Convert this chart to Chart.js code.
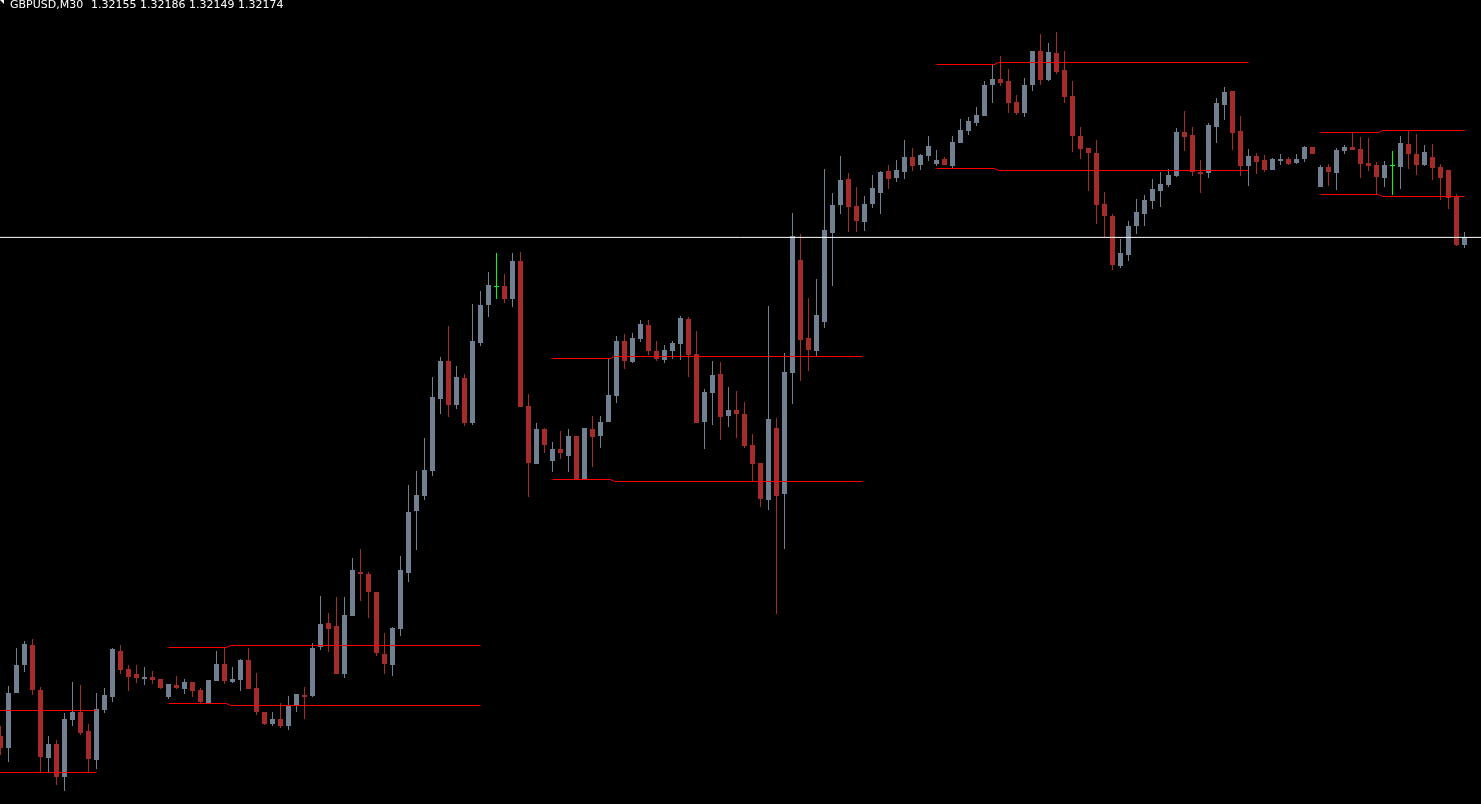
<!DOCTYPE html>
<html>
<head>
<meta charset="utf-8">
<script src="https://cdn.jsdelivr.net/npm/chart.js@4/dist/chart.umd.min.js"></script>
<style>
  html, body { margin: 0; padding: 0; background: #000; overflow: hidden; }
  #wrap { position: relative; width: 1481px; height: 804px; background: #000; }
  #c { position: absolute; left: 0; top: 0; }
  .t { position: absolute; top: -1px; color: #fff; font-family: "DejaVu Sans", sans-serif; font-size: 11px; line-height: 11px; white-space: pre; }
  #tri { position: absolute; left: 0; top: 0; width: 0; height: 0; border-top: 4px solid #fff; border-left: 4px solid transparent; }
</style>
</head>
<body>
<div id="wrap">
  <canvas id="c" width="1481" height="804"></canvas>
  <div id="tri"></div>
  <div class="t" id="sym" style="left:10px"></div>
  <div class="t" id="ohlc" style="left:91px"></div>
</div>
<script>
// ---- chart header ----
const symbol = "GBPUSD,M30";
const lastQuote = ["1.32155", "1.32186", "1.32149", "1.32174"];
const bid = 1.32174;

// ---- OHLC series (M30 bars, left to right) ----
const open = [
1.309275,1.308975,1.310350,1.311050,1.311550,1.310425,1.308725,1.309075,1.308250,1.309675,
1.309875,1.309400,1.308675,1.309925,1.310250,1.311400,1.310950,1.310825,1.310700,1.310750,
1.310700,1.310250,1.310550,1.310450,1.310625,1.310425,1.310100,1.310650,1.311075,1.310625,
1.310675,1.311175,1.310475,1.309875,1.309575,1.309700,1.309525,1.310050,1.310300,1.310275,
1.311500,1.312100,1.312025,1.310825,1.312275,1.313375,1.313325,1.312875,1.311325,1.311050,
1.311950,1.313350,1.314900,1.315275,1.315900,1.317700,1.318650,1.317550,1.318225,1.317100,
1.319100,1.320050,1.320500,1.320525,1.320200,1.321150,1.317525,1.316075,1.316950,1.316150,
1.316450,1.316275,1.316775,1.315700,1.316950,1.316775,1.317125,1.317775,1.319150,1.318625,
1.319200,1.319550,1.318900,1.318675,1.318900,1.319075,1.319700,1.318825,1.317125,1.317850,
1.318325,1.317275,1.317425,1.317325,1.316550,1.316100,1.315175,1.316975,1.315325,1.318350,
1.321175,1.319225,1.318900,1.319625,1.321850,1.322550,1.323200,1.322525,1.322125,1.322575,
1.322850,1.323400,1.323225,1.323375,1.323750,1.323550,1.323775,1.323575,1.323700,1.323525,
1.324100,1.324400,1.324600,1.324775,1.325550,1.325700,1.325650,1.325125,1.324850,1.325550,
1.326400,1.325675,1.326350,1.325925,1.325275,1.324275,1.323975,1.323850,1.322575,1.322275,
1.321025,1.321300,1.322025,1.322325,1.322650,1.322900,1.323050,1.323275,1.324375,1.324300,
1.323375,1.323350,1.324500,1.325050,1.325400,1.324400,1.323525,1.323775,1.323675,1.323425,
1.323650,1.323700,1.323600,1.323700,1.324000,1.323000,1.323500,1.323350,1.323900,1.324000,
1.323950,1.323600,1.323550,1.323225,1.323525,1.323500,1.324075,1.323825,1.323550,1.323750,
1.323500,1.323425,1.322750,1.321550];
const high = [
1.309525,1.310525,1.311475,1.311650,1.311700,1.310500,1.309275,1.309175,1.309850,1.310625,
1.310550,1.309575,1.310350,1.310475,1.311475,1.311550,1.311050,1.311050,1.311000,1.310900,
1.310700,1.310575,1.310775,1.310700,1.310625,1.310475,1.310675,1.311400,1.311475,1.311000,
1.311200,1.311475,1.310850,1.309875,1.309875,1.310100,1.310275,1.310325,1.310500,1.311600,
1.312775,1.312350,1.312750,1.312750,1.313725,1.313950,1.313375,1.312875,1.311850,1.312000,
1.313775,1.315550,1.315900,1.316725,1.318250,1.318750,1.319525,1.318525,1.318325,1.320075,
1.320400,1.320875,1.321350,1.320825,1.321350,1.321375,1.317825,1.317100,1.316975,1.316625,
1.316900,1.316950,1.316775,1.316975,1.317275,1.317275,1.318700,1.319275,1.319325,1.319350,
1.319675,1.319675,1.319150,1.319050,1.319150,1.319775,1.319750,1.319400,1.317950,1.318650,
1.318625,1.318000,1.317900,1.317625,1.316825,1.316100,1.320025,1.317225,1.318850,1.322350,
1.321825,1.320225,1.320700,1.323450,1.322850,1.323775,1.323350,1.323000,1.322775,1.323300,
1.323400,1.323550,1.323675,1.324175,1.323975,1.323825,1.324275,1.323925,1.323750,1.324275,
1.324700,1.324750,1.325000,1.325650,1.326050,1.326275,1.325950,1.325300,1.325725,1.326400,
1.326825,1.326600,1.326875,1.326400,1.325650,1.324500,1.323975,1.324175,1.322875,1.322325,
1.321700,1.322150,1.322700,1.322800,1.323200,1.323375,1.323450,1.324475,1.324900,1.324500,
1.323675,1.324600,1.325225,1.325500,1.325400,1.324775,1.323950,1.323850,1.323800,1.323725,
1.323825,1.323750,1.323825,1.324025,1.324000,1.323550,1.323575,1.323975,1.324050,1.324350,
1.324250,1.324225,1.323625,1.323650,1.323900,1.324275,1.324400,1.324325,1.324050,1.324075,
1.323575,1.323425,1.322825,1.321875];
const low = [
1.308800,1.308625,1.310350,1.310875,1.310300,1.308375,1.308375,1.308050,1.307900,1.309525,
1.309300,1.308350,1.308450,1.309850,1.310125,1.310825,1.310400,1.310600,1.310550,1.310575,
1.310450,1.310200,1.310450,1.310325,1.310250,1.310100,1.310100,1.310650,1.310575,1.310600,
1.310400,1.310450,1.309800,1.309550,1.309525,1.309475,1.309425,1.309875,1.309700,1.310250,
1.311425,1.311375,1.310825,1.310725,1.312275,1.312650,1.312225,1.311275,1.310825,1.310775,
1.311775,1.313125,1.313925,1.315175,1.315775,1.317325,1.317250,1.317450,1.317025,1.317050,
1.319025,1.319750,1.320200,1.320100,1.320000,1.317500,1.315250,1.316075,1.316350,1.315875,
1.316200,1.315875,1.315700,1.315700,1.316000,1.316475,1.317125,1.317600,1.318450,1.318600,
1.319125,1.318800,1.318650,1.318600,1.318700,1.318675,1.318250,1.317100,1.316450,1.317050,
1.316675,1.317000,1.316725,1.316475,1.315625,1.315000,1.314925,1.312325,1.313950,1.317575,
1.318150,1.318400,1.318775,1.319475,1.320525,1.322325,1.321875,1.321875,1.321900,1.322475,
1.322325,1.322950,1.323125,1.323200,1.323400,1.323425,1.323650,1.323525,1.323550,1.323475,
1.324100,1.324300,1.324525,1.324775,1.325100,1.325525,1.324850,1.324800,1.324750,1.325400,
1.325550,1.325650,1.325825,1.325100,1.323875,1.323700,1.322900,1.322075,1.321750,1.320925,
1.320975,1.321150,1.321825,1.322025,1.322450,1.322500,1.323000,1.323250,1.323900,1.323275,
1.322850,1.323225,1.324100,1.324675,1.323925,1.323275,1.323025,1.323325,1.323375,1.323425,
1.323550,1.323550,1.323575,1.323625,1.323825,1.323000,1.323025,1.322925,1.323825,1.323925,
1.323225,1.323400,1.322825,1.323000,1.322800,1.322950,1.323450,1.323300,1.323525,1.323175,
1.322675,1.322450,1.321525,1.321475];
const close = [
1.308975,1.310350,1.311050,1.311575,1.310425,1.308750,1.309075,1.308250,1.309700,1.309875,
1.309350,1.308700,1.309950,1.310300,1.311450,1.310925,1.310750,1.310725,1.310750,1.310675,
1.310475,1.310575,1.310475,1.310625,1.310400,1.310125,1.310675,1.311075,1.310650,1.310700,
1.311175,1.310450,1.309875,1.309575,1.309700,1.309525,1.310025,1.310325,1.310250,1.311475,
1.312075,1.311950,1.310825,1.312300,1.313425,1.313325,1.312875,1.311350,1.311075,1.311975,
1.313425,1.314875,1.315300,1.315925,1.317750,1.318650,1.317550,1.318250,1.317100,1.319150,
1.320050,1.320550,1.320500,1.320200,1.321150,1.317500,1.316100,1.316950,1.316550,1.316450,
1.316350,1.316775,1.315700,1.316975,1.316750,1.317125,1.317800,1.319150,1.318650,1.319225,
1.319575,1.318900,1.318700,1.318925,1.319100,1.319725,1.318800,1.317100,1.317875,1.318300,
1.317250,1.317425,1.317325,1.316525,1.316075,1.315200,1.317200,1.315275,1.318375,1.321775,
1.319175,1.318925,1.319800,1.321925,1.322550,1.323175,1.322500,1.322150,1.322575,1.322975,
1.323375,1.323200,1.323425,1.323750,1.323525,1.323800,1.324025,1.323675,1.323550,1.324125,
1.324425,1.324650,1.324800,1.325550,1.325700,1.325600,1.325100,1.324850,1.325550,1.326400,
1.325675,1.326375,1.325875,1.325250,1.324275,1.323950,1.323850,1.322550,1.322275,1.321050,
1.321350,1.322025,1.322375,1.322675,1.322950,1.323075,1.323300,1.324375,1.324250,1.323375,
1.323325,1.324550,1.325100,1.325375,1.324350,1.323525,1.323775,1.323625,1.323425,1.323700,
1.323700,1.323575,1.323700,1.324000,1.323825,1.323500,1.323375,1.323925,1.324000,1.323925,
1.323575,1.323525,1.323250,1.323550,1.323525,1.324100,1.323825,1.323550,1.323875,1.323475,
1.323225,1.322725,1.321550,1.321750];

// ---- range levels (red horizontal lines), bar indexes where they start/step/end ----
const boxStart  = [-27, 21, 69, 117, 165];
const boxEnd    = [12, 60, 107.75, 156, 183];
const highBefore = [1.3099125, 1.3114875, 1.3187125, 1.3260625, 1.3243625];
const highAfter  = [1.3099125, 1.3115375, 1.3187625, 1.3261125, 1.3244125];
const lowBefore  = [1.3083625, 1.3100875, 1.3156875, 1.3234625, 1.3228125];
const lowAfter   = [1.3083625, 1.3100375, 1.3156375, 1.3234125, 1.3227625];

// ---- colours ----
const UP = '#708090', DOWN = '#a52a2a', DOJI = '#00ff00', LEVEL = '#ff0000', BIDC = '#ffffff';

document.getElementById('sym').textContent = symbol;
document.getElementById('ohlc').textContent = lastQuote.join(' ');

const n = open.length;
const idx = Array.from({length: n}, (_, i) => i);
const colorOf = i => close[i] > open[i] ? UP : (close[i] < open[i] ? DOWN : DOJI);
const colors = idx.map(colorOf);

const bodies = idx.map(i => ({x: i, y: [open[i], close[i]]}));
const wicks = idx.map(i => ({x: i, y: [low[i], high[i]]}));

const lineSets = [];
for (let b = 0; b < boxStart.length; b++) {
  const s = boxStart[b], e = boxEnd[b];
  [[highBefore[b], highAfter[b]], [lowBefore[b], lowAfter[b]]].forEach(([a, z]) => {
    lineSets.push({
      type: 'line', order: 1,
      data: [{x: s, y: a}, {x: s + 7.25, y: a}, {x: s + 7.75, y: z}, {x: e, y: z}],
      borderColor: LEVEL, borderWidth: 1, pointRadius: 0, tension: 0, fill: false
    });
  });
}

const yMax = 1.327675, yMin = 1.307575;

new Chart(document.getElementById('c'), {
  type: 'bar',
  data: {
    datasets: [
      { type: 'line', order: 0, data: [{x: -2, y: bid}, {x: 190, y: bid}],
        borderColor: BIDC, borderWidth: 1, pointRadius: 0, tension: 0, fill: false },
      ...lineSets,
      { type: 'bar', order: 2, data: bodies, backgroundColor: colors, borderWidth: 0,
        barThickness: 5, grouped: false, minBarLength: 1, inflateAmount: 0 },
      { type: 'bar', order: 3, data: wicks, backgroundColor: colors, borderWidth: 0,
        barThickness: 1, grouped: false, inflateAmount: 0 }
    ]
  },
  options: {
    responsive: false,
    animation: false,
    devicePixelRatio: 1,
    layout: { padding: 0 },
    plugins: { legend: { display: false }, tooltip: { enabled: false }, title: { display: false } },
    events: [],
    scales: {
      x: { type: 'linear', display: false, offset: false, min: -0.0625, max: 185.0625, grace: 0 },
      y: { type: 'linear', display: false, min: yMin, max: yMax, beginAtZero: false, grace: 0 }
    }
  }
});
</script>
</body>
</html>
